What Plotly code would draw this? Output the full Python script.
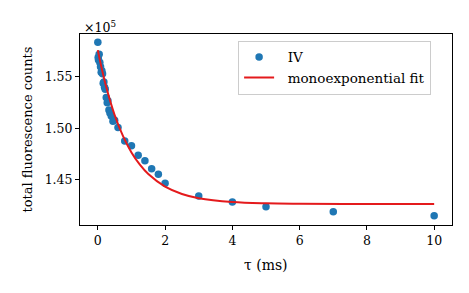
import plotly.graph_objects as go

# measured data (tau in ms, counts in units of 1e5)
tau_ms = [0, 0.01, 0.02, 0.04, 0.06, 0.08, 0.1, 0.12, 0.14, 0.16, 0.18, 0.2, 0.22,
          0.25, 0.28, 0.3, 0.33, 0.36, 0.4, 0.45, 0.5, 0.6, 0.8, 1.0, 1.2, 1.4,
          1.6, 1.8, 2.0, 3, 4, 5, 7, 10]
counts_e5 = [1.5837, 1.5690, 1.5665, 1.5720, 1.5640, 1.5600, 1.5545, 1.5560, 1.5530,
             1.5440, 1.5450, 1.5400, 1.5380, 1.5300, 1.5250, 1.5270, 1.5180, 1.5150,
             1.5120, 1.5070, 1.5080, 1.5010, 1.4879, 1.4833, 1.4740, 1.4687, 1.4610,
             1.4555, 1.4468, 1.4345, 1.4286, 1.4241, 1.4192, 1.4153]

# monoexponential fit curve
fit_tau = [0, 0.1, 0.25, 0.5, 0.75, 1.0, 1.25, 1.5, 2.0, 2.5, 3, 4, 5, 6, 8, 10]
fit_counts = [1.5760, 1.5605, 1.5403, 1.5131, 1.4925, 1.4767, 1.4648, 1.4557, 1.4435,
              1.4364, 1.4323, 1.4286, 1.4273, 1.4269, 1.4267, 1.4267]

x_ticks = [0, 2, 4, 6, 8, 10]
y_ticks = [1.45, 1.50, 1.55]
y_tick_labels = ["1.45", "1.50", "1.55"]

FONT = "DejaVu Serif"
FS_TICK = 12.5
FS_X = 14
FS_Y = 13
FS_LEG = 13.5
PAD = "\u00a0\u00a0"

fig = go.Figure()
fig.add_trace(go.Scatter(
    x=tau_ms, y=counts_e5, mode="markers", name=PAD + "IV",
    marker=dict(color="#1f77b4", size=7.5, line=dict(width=0)),
))
fig.add_trace(go.Scatter(
    x=fit_tau, y=fit_counts, mode="lines", name=PAD + "monoexponential fit",
    line=dict(color="#e41a1c", width=2, shape="spline"),
))

axis_common = dict(
    showline=True, linecolor="black", linewidth=1, mirror=True,
    ticks="outside", ticklen=4, tickwidth=1, tickcolor="black",
    showgrid=False, zeroline=False, automargin=False,
    tickfont=dict(family=FONT, size=FS_TICK, color="black"),
)

# page body has an 8px default margin, so the figure is sized to fit beside it
fig.update_layout(
    width=461, height=285,
    margin=dict(l=72, r=17, t=26, b=68),
    paper_bgcolor="white", plot_bgcolor="white",
    font=dict(family=FONT, size=FS_TICK, color="black"),
    xaxis=dict(range=[-0.53, 10.53], tickvals=x_ticks, **axis_common),
    yaxis=dict(range=[1.4063, 1.5917], tickvals=y_ticks, ticktext=y_tick_labels,
               **axis_common),
    legend=dict(x=0.425, y=0.965, xanchor="left", yanchor="top",
                bgcolor="white", bordercolor="#cccccc", borderwidth=1,
                font=dict(family=FONT, size=FS_LEG), tracegroupgap=0,
                itemwidth=30),
    showlegend=True,
    annotations=[
        dict(text="×10<sup>5</sup>", xref="paper", yref="paper",
             x=0.005, y=1.0, xanchor="left", yanchor="bottom", yshift=-3,
             showarrow=False, font=dict(family=FONT, size=FS_TICK)),
        dict(text="τ (ms)", xref="paper", yref="paper",
             x=0.5, y=-0.2094, xanchor="center", yanchor="middle",
             showarrow=False, font=dict(family=FONT, size=FS_X)),
        dict(text="total fluorescence counts", xref="paper", yref="paper",
             x=-0.1398, y=0.5, xanchor="center", yanchor="middle", textangle=-90,
             showarrow=False, font=dict(family=FONT, size=FS_Y)),
    ],
)

fig.write_html("out.html")
